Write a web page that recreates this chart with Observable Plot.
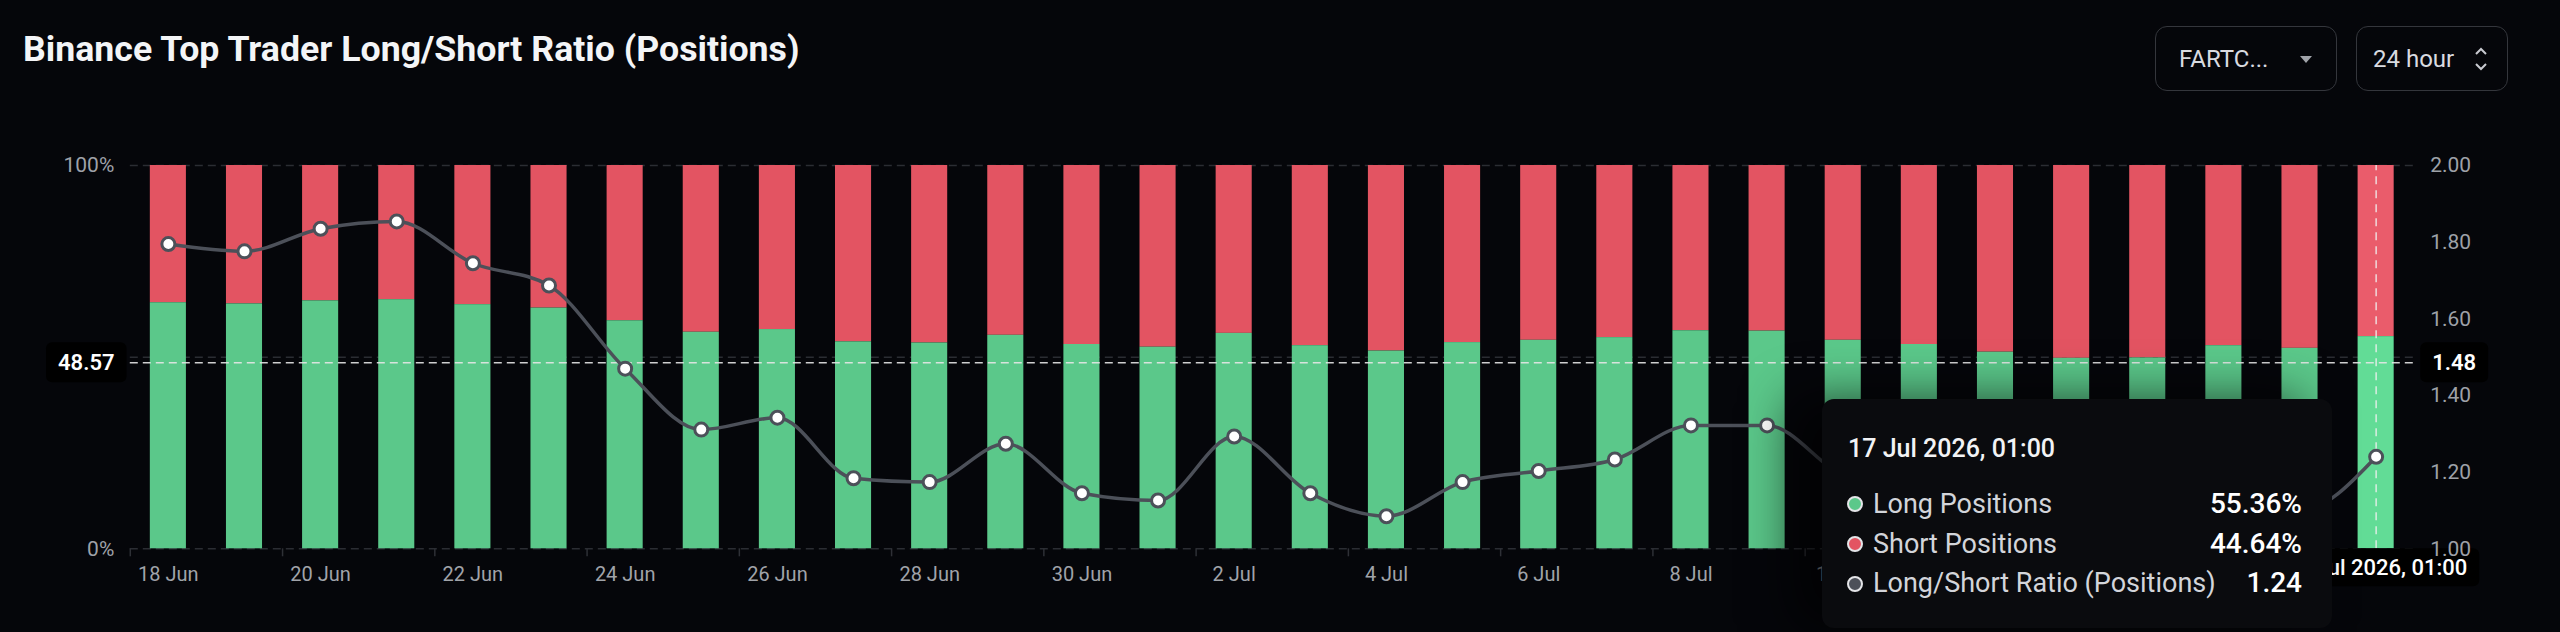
<!DOCTYPE html>
<html><head><meta charset="utf-8">
<script src="https://cdn.jsdelivr.net/npm/d3@7"></script>
<script src="https://cdn.jsdelivr.net/npm/@observablehq/plot@0.6"></script>
<style>
html,body{margin:0;padding:0;background:#05060a;}
#wrap{position:relative;width:2560px;height:632px;overflow:hidden;background:#05060a;font-family:Roboto,"Noto Sans",sans-serif;}
#wrap svg{position:absolute;left:0;top:0;}
#title{position:absolute;left:23px;top:32px;font-size:35.7px;line-height:35.7px;font-weight:700;color:#f4f5f7;letter-spacing:0px;white-space:nowrap;}
.btn{position:absolute;top:26px;height:65px;border:1.5px solid #34363c;border-radius:12px;box-sizing:border-box;color:#d9dbe0;font-size:24px;line-height:24px;}
.btn span{position:absolute;top:20px;}
.tri{position:absolute;width:0;height:0;border-left:6px solid transparent;border-right:6px solid transparent;border-top:7px solid #a0a3a9;top:29px;}
#tip{position:absolute;left:1822px;top:399px;width:510px;height:229px;background:#0a0b0e;border-radius:12px;box-shadow:-30px 0 50px rgba(0,0,0,0.65);}
#tip .t{position:absolute;white-space:nowrap;line-height:1;}
#tip .dot{position:absolute;width:12px;height:12px;border-radius:50%;border:2.5px solid #e4e5e8;}
</style></head>
<body><div id="wrap"></div>
<script>
// ---- data ----
const dates = ["18 Jun","19 Jun","20 Jun","21 Jun","22 Jun","23 Jun","24 Jun","25 Jun","26 Jun","27 Jun","28 Jun","29 Jun","30 Jun","1 Jul","2 Jul","3 Jul","4 Jul","5 Jul","6 Jul","7 Jul","8 Jul","9 Jul","10 Jul","11 Jul","12 Jul","13 Jul","14 Jul","15 Jul","16 Jul","17 Jul"];
const longPct = [64.2,63.9,64.7,65.0,63.7,62.8,59.5,56.5,57.2,54.0,53.7,55.7,53.3,52.6,56.2,53.0,51.6,53.8,54.4,55.1,56.9,56.8,54.4,53.3,51.3,49.7,49.8,53.0,52.3,55.36];
const ratio = [1.795,1.776,1.835,1.854,1.745,1.687,1.470,1.311,1.342,1.184,1.174,1.274,1.145,1.126,1.293,1.145,1.085,1.174,1.203,1.233,1.322,1.322,1.19,1.14,1.05,0.99,0.99,1.13,1.10,1.24];
const xTickLabels = ["18 Jun","20 Jun","22 Jun","24 Jun","26 Jun","28 Jun","30 Jun","2 Jul","4 Jul","6 Jul","8 Jul","10 Jul","12 Jul","14 Jul","16 Jul"];
const pctTicks = [0,50,100];
const ratioTicks = [1.0,1.2,1.4,1.6,1.8,2.0];
const hoverIndex = 29;
const hoverLabel = "17 Jul 2026, 01:00";
const crossPct = 48.57;
const title = "Binance Top Trader Long/Short Ratio (Positions)";
const symbolLabel = "FARTC...";
const periodLabel = "24 hour";

const data = dates.map((d,i)=>({i, date:d, long:longPct[i], ratio:ratio[i]}));
const tickIdx = xTickLabels.map(l => dates.indexOf(l));
const half = 0.237;
const GREEN="#5bc88a", GREEN_H="#62dc96", RED="#e35462", RED_H="#ea5c6b", LINE="#4c5059";
const toY = r => (r-1)*100;
const crossLeft = crossPct.toFixed(2);
const crossRight = (1+crossPct/100).toFixed(3).slice(0,4);

const plot = Plot.plot({
  width:2560, height:632,
  marginLeft:129.8, marginRight:146.3, marginTop:165, marginBottom:83.7,
  style:{background:"transparent", fontFamily:"Roboto, 'Noto Sans', sans-serif", color:"#a0a3a9"},
  x:{type:"linear", domain:[-0.5, dates.length-0.5], label:null},
  y:{type:"linear", domain:[0,100], label:null},
  marks:[
    Plot.ruleY(pctTicks, {y:d=>d, stroke:"#2b2d33", strokeWidth:1.5, strokeDasharray:"8,5"}),
    Plot.rect(data, {x1:d=>d.i-half, x2:d=>d.i+half, y1:"long", y2:100, fill:d=>d.i===hoverIndex?RED_H:RED}),
    Plot.rect(data, {x1:d=>d.i-half, x2:d=>d.i+half, y1:0, y2:"long", fill:d=>d.i===hoverIndex?GREEN_H:GREEN}),
    Plot.ruleY([crossPct], {y:d=>d, stroke:"#e6e6e6", strokeWidth:1.5, strokeDasharray:"8,5", strokeOpacity:0.9}),
    Plot.ruleX([hoverIndex], {x:d=>d, y1:0, y2:100, stroke:"#eeeeee", strokeWidth:1.5, strokeDasharray:"8,6", strokeOpacity:0.85}),
    Plot.line(data, {x:"i", y:d=>toY(d.ratio), curve:"monotone-x", stroke:LINE, strokeWidth:3.5, clip:true}),
    Plot.dot(data, {x:"i", y:d=>toY(d.ratio), r:6.5, fill:"#ffffff", stroke:LINE, strokeWidth:3}),
    Plot.axisX({ticks:tickIdx.map(i=>i-0.5), tickFormat:()=>"", tickSize:8, stroke:"#2e3036", strokeWidth:1.5, label:null}),
    Plot.axisX({ticks:tickIdx, tickFormat:i=>dates[i], tickSize:0, tickPadding:18, fontSize:20, fill:"#a0a3a9", label:null}),
    Plot.axisY({anchor:"left", ticks:pctTicks, tickFormat:d=>d+"%", tickSize:0, tickPadding:16, fontSize:21, fill:"#9ea1a8", label:null}),
    Plot.text([crossPct], {y:d=>d, frameAnchor:"left", dx:-44, text:()=>crossLeft, textAnchor:"middle", fontSize:22, fontWeight:600, fill:"#ffffff"}),
    Plot.text([crossPct], {y:d=>d, frameAnchor:"right", dx:40, text:()=>crossRight, textAnchor:"middle", fontSize:22, fontWeight:600, fill:"#ffffff"}),
    Plot.text([hoverIndex], {x:d=>d, frameAnchor:"bottom", dy:26, text:()=>hoverLabel, textAnchor:"middle", fontSize:22, fontWeight:500, fill:"#ffffff"}),
    Plot.axisY({anchor:"right", ticks:ratioTicks.map(toY), tickFormat:d=>(1+d/100).toFixed(2), tickSize:0, tickPadding:16, fontSize:21, fill:"#9ea1a8", label:null})
  ]
});
const wrap = document.getElementById("wrap");
wrap.appendChild(plot);
// black boxes behind crosshair labels
const boxed = new Set([crossLeft, crossRight, hoverLabel]);
const targets = Array.from(plot.querySelectorAll("text")).filter(el => boxed.has(el.textContent.trim()));
targets.forEach(el => {
  const b = el.getBBox();
  const cy = b.y + b.height/2;
  const isX = el.textContent.trim() === hoverLabel;
  const h = isX ? 38 : 40;
  const rect = document.createElementNS("http://www.w3.org/2000/svg", "rect");
  rect.setAttribute("x", b.x-12); rect.setAttribute("y", cy-h/2);
  rect.setAttribute("width", b.width+24); rect.setAttribute("height", h);
  rect.setAttribute("rx", 6); rect.setAttribute("fill", "#000000");
  const tr = el.getAttribute("transform");
  if (tr) rect.setAttribute("transform", tr);
  el.parentNode.insertBefore(rect, el);
});

// title and controls
const t = document.createElement("div"); t.id="title"; t.textContent=title; wrap.appendChild(t);
const b1 = document.createElement("div"); b1.className="btn"; b1.style.left="2155px"; b1.style.width="182px";
b1.innerHTML = `<span style="left:23px">${symbolLabel}</span><div class="tri" style="left:144px"></div>`;
wrap.appendChild(b1);
const b2 = document.createElement("div"); b2.className="btn"; b2.style.left="2356px"; b2.style.width="152px";
b2.innerHTML = `<span style="left:16px">${periodLabel}</span><svg style="position:absolute;left:117px;top:19px" width="14" height="26" viewBox="0 0 14 26"><path d="M2 8 L7 3 L12 8" fill="none" stroke="#c8cad0" stroke-width="2"/><path d="M2 18 L7 23 L12 18" fill="none" stroke="#c8cad0" stroke-width="2"/></svg>`;
wrap.appendChild(b2);

// tooltip
const last = data[hoverIndex];
const rows = [
  {label:"Long Positions", value:last.long.toFixed(2)+"%", color:GREEN},
  {label:"Short Positions", value:(100-last.long).toFixed(2)+"%", color:RED},
  {label:"Long/Short Ratio (Positions)", value:last.ratio.toFixed(2), color:"#4c5059"}
];
const tip = document.createElement("div"); tip.id="tip";
let html = `<div class="t" style="left:26px;top:37px;font-size:25px;color:#f2f3f5;font-weight:500">${hoverLabel}</div>`;
const base = [114.3,154.3,193.7];
rows.forEach((r,k)=>{
  html += `<div class="dot" style="left:25px;top:${base[k]-17}px;background:${r.color}"></div>`;
  html += `<div class="t" style="left:51px;top:${base[k]-0.8415*27}px;font-size:27px;color:#d3d5da">${r.label}</div>`;
  html += `<div class="t" style="right:30px;top:${base[k]-0.8415*28}px;font-size:28px;color:#ffffff;font-weight:500">${r.value}</div>`;
});
tip.innerHTML = html;
wrap.appendChild(tip);
</script>
</body></html>
